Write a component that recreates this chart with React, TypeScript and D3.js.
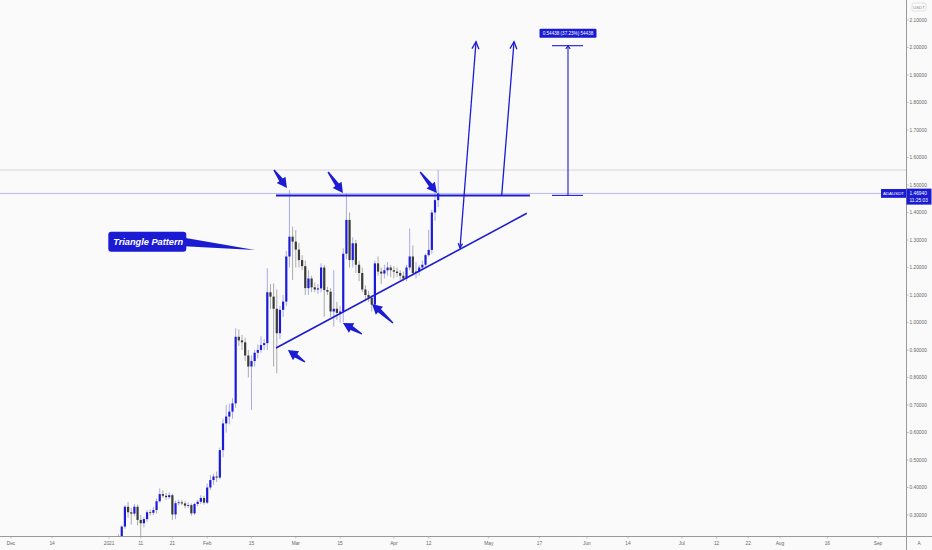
import * as d3 from "d3";

// ADA/USDT daily candles with a triangle pattern drawn over them
// index 0 of every series = 2021-01-01, open = previous close

const firstOpen = 0.181;

const closes = [
  0.175, 0.177, 0.204, 0.215, 0.258, 0.33, 0.31, 0.305, 0.33, 0.282,
  0.27, 0.285, 0.31, 0.308, 0.318, 0.35, 0.376, 0.37, 0.365, 0.372,
  0.302, 0.343, 0.346, 0.342, 0.334, 0.336, 0.306, 0.34, 0.348, 0.362,
  0.345, 0.4, 0.427, 0.44, 0.436, 0.536, 0.633, 0.658, 0.676, 0.706,
  0.948, 0.935, 0.928, 0.88, 0.84, 0.86, 0.89, 0.9, 0.918, 0.925,
  1.11, 1.094, 1.05, 0.961, 1.046, 1.076, 1.24, 1.312, 1.294, 1.265,
  1.227, 1.205, 1.125, 1.16, 1.128, 1.12, 1.124, 1.2, 1.118, 1.112,
  1.04, 1.05, 1.035, 1.04, 1.25, 1.373, 1.227, 1.288, 1.21, 1.18,
  1.12, 1.1, 1.09, 1.065, 1.215, 1.185, 1.178, 1.19, 1.2, 1.19,
  1.185, 1.18, 1.17, 1.16, 1.2, 1.24, 1.18, 1.185, 1.2, 1.21,
  1.245, 1.264, 1.4, 1.445, 1.4694,
];

const highs = [
  0.185, 0.18, 0.21, 0.23, 0.262, 0.336, 0.348, 0.325, 0.34, 0.338,
  0.3, 0.292, 0.318, 0.32, 0.33, 0.36, 0.397, 0.39, 0.38, 0.382,
  0.378, 0.352, 0.356, 0.355, 0.35, 0.345, 0.342, 0.345, 0.355, 0.372,
  0.37, 0.415, 0.445, 0.45, 0.458, 0.545, 0.65, 0.7, 0.705, 0.725,
  0.979, 0.975, 0.955, 0.945, 0.9, 0.88, 0.9, 0.92, 0.95, 0.94,
  1.197, 1.14, 1.142, 1.12, 1.06, 1.1, 1.26, 1.482, 1.349, 1.336,
  1.29, 1.245, 1.225, 1.19, 1.17, 1.145, 1.14, 1.215, 1.21, 1.13,
  1.125, 1.19, 1.075, 1.06, 1.27, 1.47, 1.4, 1.31, 1.3, 1.225,
  1.2, 1.135, 1.115, 1.1, 1.225, 1.24, 1.2, 1.21, 1.22, 1.21,
  1.205, 1.2, 1.19, 1.185, 1.21, 1.342, 1.28, 1.22, 1.21, 1.225,
  1.25, 1.337, 1.41, 1.494, 1.554,
];

const lows = [
  0.173, 0.171, 0.175, 0.195, 0.205, 0.25, 0.29, 0.265, 0.295, 0.262,
  0.22, 0.255, 0.275, 0.298, 0.3, 0.305, 0.345, 0.362, 0.355, 0.358,
  0.282, 0.285, 0.335, 0.336, 0.325, 0.325, 0.298, 0.3, 0.332, 0.34,
  0.338, 0.34, 0.39, 0.41, 0.42, 0.43, 0.51, 0.6, 0.63, 0.65,
  0.69, 0.915, 0.9, 0.86, 0.8, 0.682, 0.84, 0.87, 0.89, 0.9,
  0.9, 1.05, 0.84, 0.815, 0.94, 1.02, 1.06, 1.2, 1.155, 1.2,
  1.2, 1.19, 1.1, 1.1, 1.11, 1.11, 1.105, 1.11, 1.021, 1.1,
  1.02, 0.985, 1.01, 1.0, 1.0, 1.23, 1.2, 1.2, 1.18, 1.15,
  1.11, 1.08, 1.075, 1.04, 1.05, 1.17, 1.14, 1.16, 1.17, 1.165,
  1.16, 1.165, 1.155, 1.15, 1.15, 1.19, 1.17, 1.16, 1.17, 1.19,
  1.2, 1.24, 1.25, 1.37, 1.42,
];

const priceTicks = [
  0.3, 0.4, 0.5, 0.6, 0.7, 0.8, 0.9, 1.0, 1.1, 1.2,
  1.3, 1.4, 1.5, 1.6, 1.7, 1.8, 1.9, 2.0, 2.1,
];

const timeTicks = [
  "2020-12-01", "2020-12-14", "2021-01-01", "2021-01-11", "2021-01-21",
  "2021-02-01", "2021-02-15", "2021-03-01", "2021-03-15", "2021-04-01",
  "2021-04-12", "2021-05-01", "2021-05-17", "2021-06-01", "2021-06-14",
  "2021-07-01", "2021-07-12", "2021-07-22", "2021-08-01", "2021-08-16",
  "2021-09-01",
];
const timeTickLabels = [
  "Dec", "14", "2021", "11", "21", "Feb", "15", "Mar", "15", "Apr",
  "12", "May", "17", "Jun", "14", "Jul", "12", "22", "Aug", "16", "Sep",
];

const symbol = "ADAUSDT";
const lastPrice = 1.4694;
const lastTime = "11:25:03";
const sessionHigh = 1.5545;

// drawings, points are [days after 2021-01-01, price]
const resistanceLine = [[52.75, 1.4622], [133.0, 1.4622]];
const supportLine = [[52.75, 0.9073], [132.0, 1.397]];
const projectionA = [[110.9, 1.2709], [115.96, 2.0211]];
const projectionB = [[124.08, 1.4622], [127.97, 2.0211]];
// [tail day, tail price, tip day, tip price]
const pointers = [
  [52.1, 1.5545, 56.2, 1.489],
  [69.2, 1.5473, 73.9, 1.4709],
  [98.3, 1.5473, 103.6, 1.4709],
  [61.9, 0.8564, 56.5, 0.9],
  [79.9, 0.9582, 73.9, 0.9982],
  [89.7, 0.9982, 83.1, 1.0673],
];
const measureDays = [139.98, 145.03, 149.77];
const measureBase = 1.4622;
const measureDelta = 0.54438;
const calloutText = "Triangle Pattern";
const calloutBox = [-0.25, 1.3302];
const calloutTip = [46.1, 1.2636];

const W = 932;
const H = 550;
const plotRight = 906;
const plotBottom = 536;
const blue = "#1b1bd3";
const axisFont = "'Liberation Sans', Arial, sans-serif";
const axisText = "#666";

const day0 = Date.UTC(2021, 0, 1);
const dayDate = (d: number) => new Date(day0 + d * 864e5);

const x = d3
  .scaleUtc()
  .domain([new Date(Date.UTC(2020, 11, 1)), new Date(Date.UTC(2021, 8, 1))])
  .range([11, 878]);
const y = d3.scaleLinear().domain([0.3, 2.1]).range([515, 20]);

const px = (p: number[]) => [x(dayDate(p[0])), y(p[1])];

function chevron(from: number[], to: number[], len: number, spread = 0.45) {
  const a = Math.atan2(from[1] - to[1], from[0] - to[0]);
  const p1 = [to[0] + len * Math.cos(a + spread), to[1] + len * Math.sin(a + spread)];
  const p2 = [to[0] + len * Math.cos(a - spread), to[1] + len * Math.sin(a - spread)];
  return `M${p1[0]},${p1[1]}L${to[0]},${to[1]}L${p2[0]},${p2[1]}`;
}

// tradingview style filled arrow: thin tail widening into a big head
function pointerShape(tail: number[], tip: number[]) {
  const dx = tip[0] - tail[0];
  const dy = tip[1] - tail[1];
  const len = Math.hypot(dx, dy);
  const ux = dx / len, uy = dy / len;
  const nx = -uy, ny = ux;
  const headLen = 10;
  const bx = tip[0] - ux * headLen, by = tip[1] - uy * headLen;
  const pts = [
    [tail[0] + nx * 0.7, tail[1] + ny * 0.7],
    [bx + nx * 2.2, by + ny * 2.2],
    [bx + nx * 5.4, by + ny * 5.4],
    tip,
    [bx - nx * 5.4, by - ny * 5.4],
    [bx - nx * 2.2, by - ny * 2.2],
    [tail[0] - nx * 0.7, tail[1] - ny * 0.7],
  ];
  return "M" + pts.map((p) => p.join(",")).join("L") + "Z";
}

export default function App() {
  const candles = closes.map((c, i) => ({
    date: dayDate(i),
    open: i === 0 ? firstOpen : closes[i - 1],
    high: highs[i],
    low: lows[i],
    close: c,
  }));

  const line = d3.line<number[]>().x((p) => px(p)[0]).y((p) => px(p)[1]);

  const mTop = y(measureBase + measureDelta);
  const mBase = y(measureBase);
  const mLeft = x(dayDate(measureDays[0]));
  const mMid = x(dayDate(measureDays[1]));
  const mRight = x(dayDate(measureDays[2]));
  const pct = ((measureDelta / measureBase) * 100).toFixed(2);
  const measureLabel = `${measureDelta.toFixed(5)} (${pct}%) ${Math.round(measureDelta * 1e5)}`;

  const box = px(calloutBox);
  const tip = px(calloutTip);
  const boxW = 78;
  const boxH = 20;

  const lastY = y(lastPrice);

  return (
    <svg
      width={W}
      height={H}
      style={{ position: "fixed", left: 0, top: 0, background: "#fafafa" }}
      fontFamily={axisFont}
    >
      <defs>
        <clipPath id="plot">
          <rect x={0} y={0} width={plotRight} height={plotBottom} />
        </clipPath>
      </defs>
      <rect width={W} height={H} fill="#fafafa" />

      <g clipPath="url(#plot)">
        {/* session high and last price lines */}
        <line x1={0} x2={plotRight} y1={y(sessionHigh)} y2={y(sessionHigh)} stroke="#d6d6d6" />
        <line x1={0} x2={plotRight} y1={lastY} y2={lastY} stroke="#b9b9ee" />

        {candles.map((c, i) => {
          const cx = x(c.date);
          const up = c.close >= c.open;
          const top = y(Math.max(c.open, c.close));
          const bot = y(Math.min(c.open, c.close));
          return (
            <g key={i}>
              <line
                x1={cx}
                x2={cx}
                y1={y(c.high)}
                y2={y(c.low)}
                stroke={up ? "#a9a9ec" : "#ababab"}
                strokeWidth={1}
              />
              <rect
                x={cx - 1.1}
                y={top}
                width={2.2}
                height={Math.max(0.8, bot - top)}
                fill={up ? "#1c1cd8" : "#3a3a3a"}
              />
            </g>
          );
        })}

        {/* triangle */}
        <path d={line(resistanceLine) ?? ""} stroke={blue} strokeWidth={2} fill="none" />
        <path d={line(supportLine) ?? ""} stroke={blue} strokeWidth={1.6} fill="none" />

        {/* projections */}
        {[projectionA, projectionB].map((seg, i) => {
          const a = px(seg[0]);
          const b = px(seg[1]);
          return (
            <g key={i} stroke={blue} strokeWidth={1.3} fill="none">
              <path d={`M${a[0]},${a[1]}L${b[0]},${b[1]}`} />
              <path d={chevron(a, b, 8)} />
              {i === 0 && <path d={chevron(b, a, 5)} />}
            </g>
          );
        })}

        {/* measure */}
        <g stroke={blue} strokeWidth={1.1} fill="none">
          <line x1={mLeft} x2={mRight} y1={mTop} y2={mTop} />
          <line x1={mLeft} x2={mRight} y1={mBase} y2={mBase} />
          <line x1={mMid} x2={mMid} y1={mBase} y2={mTop} />
          <path d={chevron([mMid, mBase], [mMid, mTop], 4, 0.6)} />
        </g>
        <rect x={mMid - 28.5} y={mTop - 17} width={57} height={9} rx={1} fill={blue} />
        <text x={mMid} y={mTop - 10.8} fill="#fff" fontSize={4.6} textAnchor="middle">
          {measureLabel}
        </text>

        {/* pointer arrows */}
        {pointers.map((p, i) => (
          <path key={i} d={pointerShape(px([p[0], p[1]]), px([p[2], p[3]]))} fill={blue} />
        ))}

        {/* callout */}
        <path
          d={`M${box[0] + boxW - 2},${box[1] + 6}L${tip[0]},${tip[1]}L${box[0] + boxW - 2},${box[1] + 14.5}Z`}
          fill={blue}
        />
        <rect x={box[0]} y={box[1]} width={boxW} height={boxH} rx={3} fill={blue} />
        <text
          x={box[0] + 5}
          y={box[1] + 13.6}
          fill="#fff"
          fontSize={9.2}
          fontWeight="bold"
          fontStyle="italic"
          fontFamily="'Liberation Sans', Arial, sans-serif"
        >
          {calloutText}
        </text>
      </g>

      {/* price axis */}
      <line x1={plotRight + 0.5} x2={plotRight + 0.5} y1={0} y2={H} stroke="#9a9a9a" />
      <rect x={912} y={3} width={14} height={8} fill="none" stroke="#d4d4d4" strokeWidth={0.6} rx={1} />
      <text x={919} y={8.8} fontSize={4.2} fill="#888" textAnchor="middle">
        USDT
      </text>
      {priceTicks.map((t) => (
        <g key={t}>
          <line x1={plotRight} x2={plotRight + 2.5} y1={y(t)} y2={y(t)} stroke="#9a9a9a" strokeWidth={0.6} />
          <text x={909.5} y={y(t) + 1.7} fontSize={4.8} fill={axisText}>
            {t.toFixed(5)}
          </text>
        </g>
      ))}
      <rect x={881} y={lastY - 4.4} width={25} height={8.8} fill={blue} />
      <text x={893.5} y={lastY + 1.6} fontSize={4.4} fill="#fff" textAnchor="middle">
        {symbol}
      </text>
      <rect x={906.5} y={lastY - 4.8} width={25} height={16} fill={blue} />
      <text x={909.5} y={lastY + 1.6} fontSize={4.8} fill="#fff">
        {lastPrice.toFixed(5)}
      </text>
      <text x={909.5} y={lastY + 8.4} fontSize={4.8} fill="#fff">
        {lastTime}
      </text>

      {/* time axis */}
      <line x1={0} x2={W} y1={plotBottom + 0.5} y2={plotBottom + 0.5} stroke="#9a9a9a" />
      {timeTicks.map((t, i) => {
        const tx = x(new Date(t + "T00:00:00Z"));
        return (
          <g key={t}>
            <line x1={tx} x2={tx} y1={plotBottom} y2={plotBottom + 2.5} stroke="#9a9a9a" strokeWidth={0.6} />
            <text x={tx} y={545} fontSize={4.8} fill={axisText} textAnchor="middle">
              {timeTickLabels[i]}
            </text>
          </g>
        );
      })}
      <text x={919} y={545} fontSize={4.8} fill={axisText} textAnchor="middle">
        A
      </text>
    </svg>
  );
}
